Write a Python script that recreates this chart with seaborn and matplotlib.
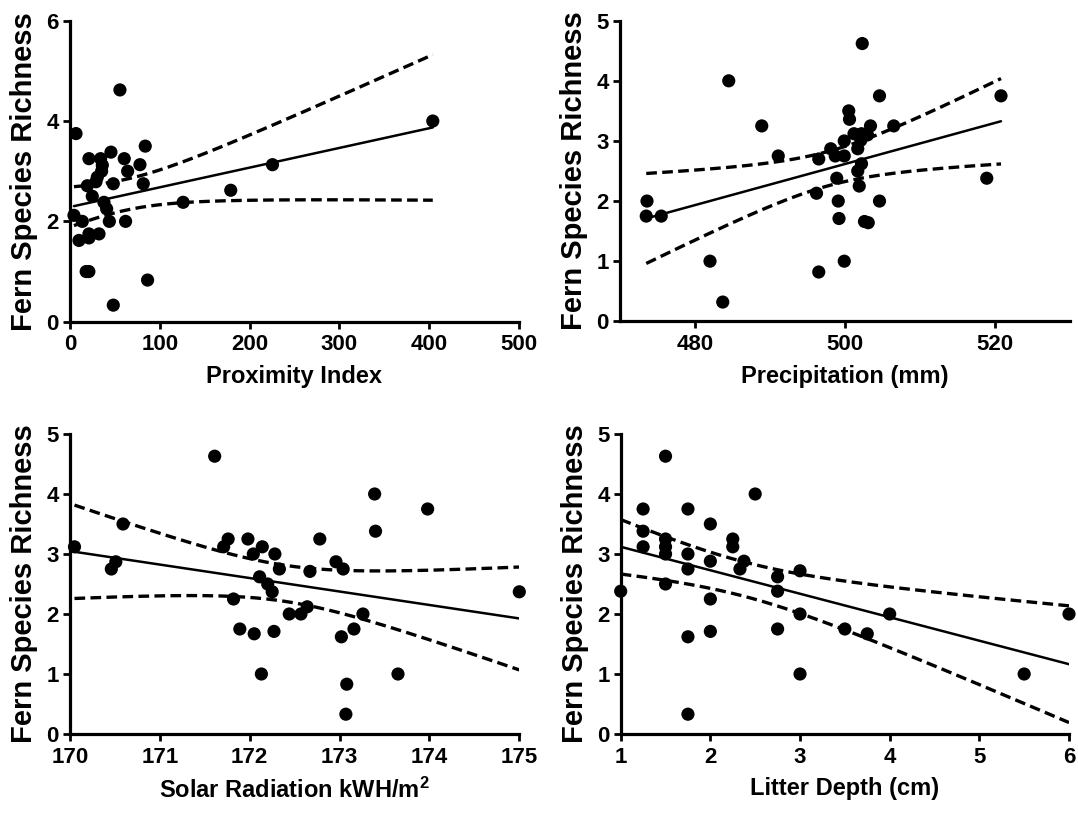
import numpy as np
import pandas as pd
import matplotlib
matplotlib.use("Agg")
import matplotlib.pyplot as plt
import seaborn as sns

# Fern species richness per plot against four site variables
proximity = [55.6, 6.7, 83.8, 45.6, 21.1, 34.1, 60.4, 36.0, 77.9, 225.5, 35.2, 64.2,
             30.4, 28.9, 48.2, 81.6, 19.3, 24.8, 179.0, 126.0, 37.8, 40.8, 4.4, 13.7,
             43.8, 61.9, 10.0, 21.1, 21.1, 32.3, 18.0, 21.0, 86.4, 48.2, 404.0]
richness_prox = [4.62, 3.75, 3.50, 3.38, 3.25, 3.25, 3.25, 3.12, 3.13, 3.13, 3.00, 3.00,
                 2.88, 2.79, 2.75, 2.75, 2.71, 2.50, 2.62, 2.38, 2.38, 2.25, 2.12, 2.00,
                 2.00, 2.00, 1.62, 1.75, 1.67, 1.75, 1.00, 1.00, 0.83, 0.33, 4.00]

precipitation = [502.3, 484.5, 504.6, 520.8, 500.5, 500.6, 488.9, 503.4, 506.5, 501.2,
                 502.2, 503.0, 499.9, 502.1, 498.1, 501.7, 491.1, 498.7, 499.9, 496.5,
                 502.2, 501.7, 498.9, 518.9, 501.9, 496.2, 473.6, 499.1, 504.6, 473.5,
                 475.5, 499.2, 502.6, 503.1, 482.0, 499.9, 496.5, 483.7]
richness_precip = [4.62, 4.00, 3.75, 3.75, 3.50, 3.36, 3.25, 3.25, 3.25, 3.12,
                   3.12, 3.10, 3.00, 3.01, 2.87, 2.87, 2.75, 2.75, 2.75, 2.70,
                   2.62, 2.50, 2.38, 2.38, 2.25, 2.13, 2.00, 2.00, 2.00, 1.75,
                   1.75, 1.71, 1.66, 1.64, 1.00, 1.00, 0.82, 0.32]

solar = [171.61, 173.39, 173.98, 173.40, 170.59, 171.76, 171.98, 172.78, 171.71,
         172.14, 170.05, 172.04, 172.28, 170.51, 172.96, 170.46, 172.33, 172.67,
         173.04, 172.11, 172.20, 172.25, 175.00, 171.82, 172.64, 172.44, 172.57,
         173.26, 171.89, 172.27, 173.16, 172.05, 173.02, 172.13, 173.65, 173.08, 173.07]
richness_solar = [4.63, 4.00, 3.75, 3.38, 3.50, 3.25, 3.25, 3.25, 3.12,
                  3.12, 3.12, 3.00, 3.00, 2.87, 2.87, 2.75, 2.75, 2.71,
                  2.75, 2.62, 2.50, 2.37, 2.37, 2.25, 2.12, 2.00, 2.00,
                  2.00, 1.75, 1.71, 1.75, 1.67, 1.62, 1.00, 1.00, 0.83, 0.33]

litter = [1.5, 2.5, 1.25, 1.75, 2.0, 1.25, 2.25, 1.5, 1.25, 2.25, 1.5, 1.5, 1.75,
          2.0, 2.375, 1.75, 2.33, 3.0, 2.75, 1.5, 1.0, 2.75, 2.0, 3.0, 4.0, 6.0,
          2.75, 3.5, 1.75, 2.0, 3.75, 3.0, 5.5, 1.75]
richness_litter = [4.63, 4.00, 3.75, 3.75, 3.50, 3.38, 3.25, 3.25, 3.12, 3.12, 3.12, 3.00, 3.00,
                   2.88, 2.88, 2.75, 2.75, 2.72, 2.62, 2.50, 2.38, 2.38, 2.25, 2.00, 2.00, 2.00,
                   1.75, 1.75, 1.62, 1.71, 1.67, 1.00, 1.00, 0.33]

x_labels = ["Proximity Index", "Precipitation (mm)",
            "Solar Radiation kWH/m$^{2}$", "Litter Depth (cm)"]
y_label = "Fern Species Richness"

sns.set_theme(style="ticks")
plt.rcParams["font.family"] = ["Liberation Sans", "DejaVu Sans"]
plt.rcParams["font.weight"] = "bold"
plt.rcParams["mathtext.fontset"] = "custom"
plt.rcParams["mathtext.rm"] = "Liberation Sans:bold"
plt.rcParams["mathtext.bf"] = "Liberation Sans:bold"
plt.rcParams["mathtext.default"] = "bf"


def t_crit(df, z=1.959964):
    # Cornish-Fisher expansion of the two-sided 95% Student t quantile
    return (z + (z**3 + z) / (4 * df) + (5 * z**5 + 16 * z**3 + 3 * z) / (96 * df**2)
            + (3 * z**7 + 19 * z**5 + 17 * z**3 - 15 * z) / (384 * df**3))


def fit_with_band(x, y, n=200):
    """Least-squares line over the data range with its 95% confidence band."""
    x = np.asarray(x, float)
    y = np.asarray(y, float)
    slope, intercept = np.polyfit(x, y, 1)
    xs = np.linspace(x.min(), x.max(), n)
    yhat = intercept + slope * xs
    resid = y - (intercept + slope * x)
    df = len(x) - 2
    s = np.sqrt(np.sum(resid**2) / df)
    sxx = np.sum((x - x.mean())**2)
    se = s * np.sqrt(1.0 / len(x) + (xs - x.mean())**2 / sxx)
    t = t_crit(df)
    return pd.DataFrame({"x": xs, "fit": yhat, "lo": yhat - t * se, "hi": yhat + t * se})


W, H = 1078, 813
fig = plt.figure(figsize=(W / 100, H / 100), dpi=100)

# (x data, y data, axes box in pixels [left, top, right, bottom], x range, x ticks, y range, y ticks)
panels = [
    (proximity, richness_prox, (70, 20.7, 519, 321.7), (0, 500), np.arange(0, 501, 100), (0, 6), [0, 2, 4, 6]),
    (precipitation, richness_precip, (620, 20.7, 1070, 321.3), (470, 530), [480, 500, 520], (0, 5), range(0, 6)),
    (solar, richness_solar, (70, 434, 519.3, 734), (170, 175), range(170, 176), (0, 5), range(0, 6)),
    (litter, richness_litter, (620.7, 434, 1069, 734), (1, 6), range(1, 7), (0, 5), range(0, 6)),
]

for i, (xv, yv, box, xlim, xticks, ylim, yticks) in enumerate(panels):
    l, t, r, b = box
    ax = fig.add_axes([l / W, 1 - b / H, (r - l) / W, (b - t) / H])
    band = fit_with_band(xv, yv)
    sns.lineplot(data=band, x="x", y="fit", ax=ax, color="black", lw=1.8, zorder=2)
    for col in ("lo", "hi"):
        sns.lineplot(data=band, x="x", y=col, ax=ax, color="black", lw=2.4,
                     dashes=False, linestyle=(0, (3.2, 1.6)), zorder=2)
    pts = pd.DataFrame({"x": xv, "y": yv})
    sns.scatterplot(data=pts, x="x", y="y", ax=ax, color="black", s=90,
                    edgecolor="none", clip_on=False, zorder=3)
    ax.set_xlim(*xlim)
    ax.set_ylim(*ylim)
    ax.set_xticks(list(xticks))
    ax.set_yticks(list(yticks))
    sns.despine(ax=ax)
    for sp in ("left", "bottom"):
        ax.spines[sp].set_linewidth(2.3)
        ax.spines[sp].set_color("black")
    ax.tick_params(axis="both", direction="out", length=5, width=2.0, color="black",
                   labelsize=16, labelcolor="black", pad=3)
    ax.tick_params(axis="x", pad=4)
    for lab in ax.get_xticklabels() + ax.get_yticklabels():
        lab.set_fontweight("bold")
    ax.set_xlabel(x_labels[i], fontsize=17, fontweight="bold", color="black", labelpad=7)
    ax.set_ylabel(y_label, fontsize=21, fontweight="bold", color="black", labelpad=6)

fig.savefig("out.png", dpi=100, facecolor="white")
